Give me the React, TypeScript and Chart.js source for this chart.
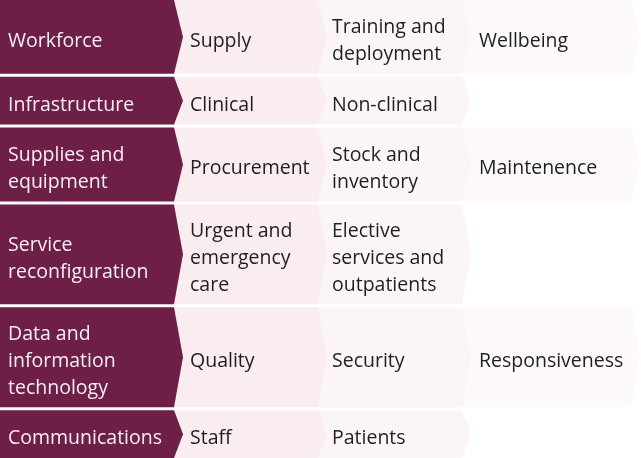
import React, { useEffect, useRef } from "react";
import { Chart, registerables } from "chart.js";

Chart.register(...registerables);

// ---- Data ----
const AREAS = [
  "Workforce",
  "Infrastructure",
  "Supplies and\nequipment",
  "Service\nreconfiguration",
  "Data and\ninformation\ntechnology",
  "Communications",
];
const FIRST_ITEMS = [
  "Supply",
  "Clinical",
  "Procurement",
  "Urgent and\nemergency\ncare",
  "Quality",
  "Staff",
];
const SECOND_ITEMS = [
  "Training and\ndeployment",
  "Non-clinical",
  "Stock and\ninventory",
  "Elective\nservices and\noutpatients",
  "Security",
  "Patients",
];
const THIRD_ITEMS = ["Wellbeing", "", "Maintenence", "", "Responsiveness", ""];

// ---- Layout / style (not data) ----
const W = 641;
const H = 458;
const COL_EDGES = [0, 174, 318, 462, 631];
const TIP = 9;
const ROW_BASE = 21.5;
const ROW_PER_LINE = 26;
const ROW_GAP = 3;
const FILLS = ["#6e1f48", "#f9edf0", "#fcf5f7", "#fdf9f9"];
const TEXT_COLORS = ["#f7eef3", "#1f1f1f", "#1f1f1f", "#1f1f1f"];
const TEXT_PAD = [8, 16, 14, 17];
const FONT_SIZE = 19.5;
const LINE_H = 27;
const FONT = `${FONT_SIZE}px "Open Sans", sans-serif`;

const COLUMNS = [AREAS, FIRST_ITEMS, SECOND_ITEMS, THIRD_ITEMS];

function rowLines(i: number) {
  return Math.max(...COLUMNS.map((c) => (c[i] ? c[i].split("\n").length : 0)));
}
const ROW_HEIGHTS = AREAS.map((_, i) => ROW_BASE + ROW_PER_LINE * rowLines(i));
const TOTAL = ROW_HEIGHTS.reduce((a, b) => a + b, 0) + ROW_GAP * (AREAS.length - 1);

const chevronPlugin = {
  id: "chevrons",
  beforeDatasetsDraw(chart: any) {
    const { ctx, scales } = chart;
    const xs = scales.x;
    const ys = scales.y;
    ctx.save();
    let top = 0;
    AREAS.forEach((_, r) => {
      const h = ROW_HEIGHTS[r];
      const y0 = ys.getPixelForValue(top);
      const y1 = ys.getPixelForValue(top + h);
      const mid = (y0 + y1) / 2;
      for (let c = COLUMNS.length - 1; c >= 0; c--) {
        const label = COLUMNS[c][r];
        if (!label) continue;
        const left = xs.getPixelForValue(COL_EDGES[c]);
        const right = xs.getPixelForValue(COL_EDGES[c + 1]);
        const tip = xs.getPixelForValue(COL_EDGES[c + 1] + TIP);
        ctx.beginPath();
        ctx.moveTo(left, y0);
        ctx.lineTo(right, y0);
        ctx.lineTo(tip, mid);
        ctx.lineTo(right, y1);
        ctx.lineTo(left, y1);
        ctx.closePath();
        ctx.fillStyle = FILLS[c];
        ctx.fill();
      }
      for (let c = 0; c < COLUMNS.length; c++) {
        const label = COLUMNS[c][r];
        if (!label) continue;
        const lines = label.split("\n");
        const left = xs.getPixelForValue(COL_EDGES[c]);
        ctx.font = FONT;
        ctx.fillStyle = TEXT_COLORS[c];
        ctx.textAlign = "left";
        ctx.textBaseline = "alphabetic";
        lines.forEach((ln, k) => {
          const yb = mid + (k - (lines.length - 1) / 2) * LINE_H + FONT_SIZE * 0.36 + 3;
          ctx.fillText(ln, left + TEXT_PAD[c], yb);
        });
      }
      top += h + ROW_GAP;
    });
    ctx.restore();
  },
};

export default function App() {
  const ref = useRef<HTMLCanvasElement | null>(null);
  useEffect(() => {
    document.body.style.margin = "0";
    const canvas = ref.current!;
    const chart = new Chart(canvas, {
      type: "scatter",
      data: { datasets: [{ data: [] }] },
      options: {
        animation: false,
        responsive: false,
        events: [],
        layout: { padding: 0 },
        plugins: { legend: { display: false }, tooltip: { enabled: false } },
        scales: {
          x: { type: "linear", min: 0, max: W, display: false },
          y: { type: "linear", min: 0, max: TOTAL, reverse: true, display: false },
        },
      },
      plugins: [chevronPlugin],
    });
    return () => chart.destroy();
  }, []);
  return (
    <div style={{ position: "fixed", left: 0, top: 0, width: W, height: H, background: "#fff" }}>
      <canvas ref={ref} width={W} height={H} style={{ width: W, height: H, display: "block" }} />
    </div>
  );
}
